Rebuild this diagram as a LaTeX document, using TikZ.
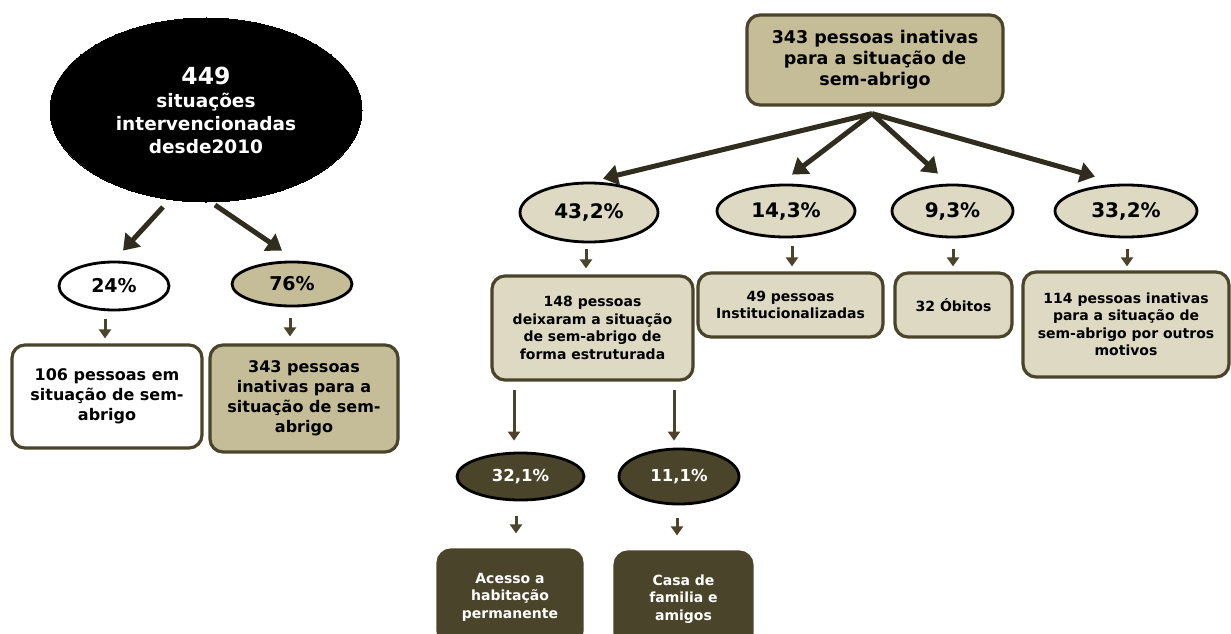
\documentclass[tikz,border=0pt]{standalone}
\usepackage{fontspec}
\setmainfont{DejaVu Sans}
\usetikzlibrary{arrows.meta,shapes.geometric}
\definecolor{tanfill}{HTML}{C4BD97}
\definecolor{lighttan}{HTML}{DDD9C3}
\definecolor{darkolive}{HTML}{4A452A}
\definecolor{arrowdark}{HTML}{302D1E}
\tikzset{
  ell/.style={ellipse, draw=black, line width=2.8pt, inner sep=0pt, align=center},
  rbox/.style={rectangle, rounded corners=13pt, draw=darkolive, line width=3.2pt, inner sep=0pt, align=center},
  bigarrow/.style={draw=arrowdark, line width=5pt, -{Triangle[length=15pt,width=20pt]}},
  smallarrow/.style={draw=darkolive, line width=3pt, -{Triangle[length=9pt,width=12pt]}},
  fA/.style={font=\bfseries\fontsize{18.5}{23}\selectfont},
  fB/.style={font=\bfseries\fontsize{19}{22}\selectfont},
  fC/.style={font=\bfseries\fontsize{16}{20}\selectfont},
  fD/.style={font=\bfseries\fontsize{17.5}{21}\selectfont},
  fE/.style={font=\bfseries\fontsize{20}{22}\selectfont},
  fF/.style={font=\bfseries\fontsize{14}{17.5}\selectfont},
  fG/.style={font=\bfseries\fontsize{16.5}{18}\selectfont},
}
\begin{document}
\begin{tikzpicture}[x=1pt,y=-1pt]
\useasboundingbox[fill=white] (0,0) rectangle (1231,634);

% ---------- left part ----------
\node[ell, fill=black, draw=black, line width=0pt, minimum width=312pt, minimum height=184pt, text=white, fA] (big) at (206,110)
  {{\fontsize{23.5}{27}\selectfont 449}\\situações\\intervencionadas\\desde2010};
\node[ell, fill=white, minimum width=110pt, minimum height=48pt, fB] (e24) at (114,286) {24\%};
\node[ell, fill=tanfill, minimum width=120pt, minimum height=44pt, fB] (e76) at (292,284) {76\%};
\node[rbox, fill=white, minimum width=190pt, minimum height=103pt, fC] (b106) at (107,396.5)
  {106 pessoas em\\situação de sem-\\abrigo};
\node[rbox, fill=tanfill, minimum width=188pt, minimum height=107pt, fC] (b343L) at (304,398.5)
  {343 pessoas\\inativas para a\\situação de sem-\\abrigo};

\draw[bigarrow] ([xshift=-43pt,yshift=-5pt]big.south) -- ([xshift=9pt,yshift=10pt]e24.north);
\draw[bigarrow] ([xshift=9pt,yshift=-3pt]big.south) -- ([xshift=-10pt,yshift=10pt]e76.north);
\draw[smallarrow] ([xshift=-9pt,yshift=-8pt]e24.south) -- ([xshift=-2pt,yshift=5pt]b106.north);
\draw[smallarrow] ([xshift=-2pt,yshift=-11pt]e76.south) -- ([xshift=-14pt,yshift=7pt]b343L.north);

% ---------- right part ----------
\node[rbox, fill=tanfill, minimum width=256pt, minimum height=90pt, fD] (top) at (875,60)
  {343 pessoas inativas\\para a situação de\\sem-abrigo};

\node[ell, fill=lighttan, minimum width=138pt, minimum height=59pt, fE] (e43) at (589,212.5) {43,2\%};
\node[ell, fill=lighttan, minimum width=138pt, minimum height=52pt, fE] (e14) at (786,211) {14,3\%};
\node[ell, fill=lighttan, minimum width=121pt, minimum height=52pt, fE] (e9) at (952.5,211) {9,3\%};
\node[ell, fill=lighttan, minimum width=142pt, minimum height=52pt, fE] (e33) at (1126,211) {33,2\%};

\draw[bigarrow] ([xshift=-3pt,yshift=-7pt]top.south) -- ([xshift=14pt,yshift=3pt]e43.north);
\draw[bigarrow] ([xshift=-3pt,yshift=-7pt]top.south) -- ([xshift=6pt,yshift=9pt]e14.north);
\draw[bigarrow] ([xshift=-3pt,yshift=-7pt]top.south) -- ([xshift=-14.5pt,yshift=10pt]e9.north);
\draw[bigarrow] ([xshift=-3pt,yshift=-7pt]top.south) -- ([xshift=-31pt,yshift=7pt]e33.north);

\node[rbox, fill=lighttan, minimum width=201pt, minimum height=104pt, fF] (b148) at (592.5,328)
  {148 pessoas\\deixaram a situação\\de sem-abrigo de\\forma estruturada};
\node[rbox, fill=lighttan, minimum width=185pt, minimum height=64pt, fF] (b49) at (790.5,305)
  {49 pessoas\\Institucionalizadas};
\node[rbox, fill=lighttan, minimum width=117pt, minimum height=64pt, fF] (b32) at (953.5,305)
  {32 Óbitos};
\node[rbox, fill=lighttan, minimum width=206pt, minimum height=105pt, fF] (b114) at (1126,324.5)
  {114 pessoas inativas\\para a situação de\\sem-abrigo por outros\\motivos};

\draw[smallarrow] ([xshift=-3pt,yshift=-6pt]e43.south) -- ([xshift=-6.5pt,yshift=6pt]b148.north);
\draw[smallarrow] ([xshift=6pt,yshift=-8pt]e14.south) -- ([xshift=1.5pt,yshift=5pt]b49.north);
\draw[smallarrow] ([xshift=0.5pt,yshift=-11pt]e9.south) -- ([xshift=-0.5pt,yshift=5pt]b32.north);
\draw[smallarrow] ([xshift=1pt,yshift=-11pt]e33.south) -- ([xshift=1pt,yshift=4pt]b114.north);

\node[ell, fill=darkolive, minimum width=127pt, minimum height=47pt, text=white, fG] (e321) at (520.5,476.5) {32,1\%};
\node[ell, fill=darkolive, minimum width=120pt, minimum height=55pt, text=white, fG] (e111) at (679,476.5) {11,1\%};

\draw[smallarrow] ([xshift=-78.5pt,yshift=-8pt]b148.south) -- ([xshift=-6.5pt,yshift=11pt]e321.north);
\draw[smallarrow] ([xshift=81.5pt,yshift=-8pt]b148.south) -- ([xshift=-5pt,yshift=7pt]e111.north);

\node[rbox, fill=darkolive, minimum width=144pt, minimum height=94pt, text=white, fF] (bAc) at (510,597)
  {Acesso a\\habitação\\permanente};
\node[rbox, fill=darkolive, minimum width=137pt, minimum height=94pt, text=white, fF] (bCa) at (683.5,599)
  {Casa de\\familia e\\amigos};

\draw[smallarrow] ([xshift=-4.5pt,yshift=-15pt]e321.south) -- ([xshift=6pt,yshift=15pt]bAc.north);
\draw[smallarrow] ([xshift=-2pt,yshift=-13pt]e111.south) -- ([xshift=-6.5pt,yshift=15pt]bCa.north);
\end{tikzpicture}
\end{document}
